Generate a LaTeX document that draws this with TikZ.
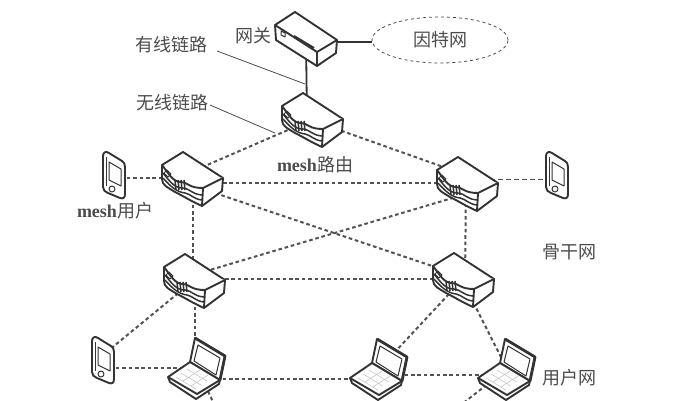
\documentclass[tikz,border=0pt]{standalone}
\usepackage{fontspec}
\usetikzlibrary{shapes.geometric}
\setmainfont{Liberation Serif}
\newfontfamily\cjk{Noto Sans CJK SC}
\definecolor{ink}{gray}{0.2}
\definecolor{lbl}{gray}{0.3}
\tikzset{
  anchorbox/.style={inner sep=0pt,minimum size=2pt},
  wireless/.style={draw=ink!85,dashed,dash pattern=on 3.6pt off 2.8pt,line width=2pt},
  wirelessthin/.style={draw=lbl,dashed,dash pattern=on 5pt off 3pt,line width=0.9pt},
  wired/.style={draw=ink,line width=1.8pt},
  callout/.style={draw=lbl,line width=0.8pt},
  lbltext/.style={text=lbl,inner sep=0pt,font=\fontsize{18}{20}\selectfont\cjk},
  devline/.style={draw=ink,line width=1.9pt,line join=round,fill=white},
  devthin/.style={draw=ink,line width=1pt,line join=round},
  router/.pic={
    \path[devline] (-8,-27) -- (32,-1) -- (31,12) -- (11,27)
      .. controls (-4,20) and (-4,19) .. (-16,13)
      .. controls (-24,8) and (-29,6) .. (-29,0) -- (-29,-14) -- cycle;
    \draw[devline] (-29,-14) .. controls (-22,-5) and (-18,3) .. (-10,3)
      .. controls (-2,4) and (-2,9) .. (12,9) -- (32,-1);
    \draw[devline] (12,9) -- (11,27);
    \draw[devthin,line width=1.5pt] (-28,-6) .. controls (-20,4) and (-16,9) .. (-8,9)
      .. controls (0,10) and (0,15) .. (11,16);
    \draw[devthin,line width=1.5pt] (-28,-1) .. controls (-20,8) and (-14,13) .. (-6,14)
      .. controls (0,15) and (2,20) .. (11,21);
    \draw[devthin] (-24,-9) -- (-20,-5) -- (-23,-2) -- (-27,-6) -- cycle;
    \foreach \i in {-16,-13,-10,-7}
      \draw[devthin,line width=1.5pt] (\i,1) -- (\i+1,11);
  },
  gateway/.pic={
    \path[devline] (-11,-27) -- (31,1) -- (30,14) -- (11,27) -- (-30,1) -- (-31,-14) -- cycle;
    \draw[devline,fill=none] (-31,-14) -- (11,13) -- (31,1);
    \draw[devline,fill=none] (11,13) -- (11,27);
    \draw[devthin] (-25,-8) -- (-21,-6) -- (-21,-2) -- (-25,-4) -- cycle;
    \draw[devthin,line width=2pt] (-12,-3) -- (8,9);
  },
  laptop/.pic={
    \path[devline] (-2,-30) -- (28,-12) -- (23,12) -- (-7,-6) -- cycle;
    \draw[devline,line width=2.8pt,fill=white] (-2,-30) -- (28,-12) -- (23,12);
    \draw[devthin] (1,-23) -- (23,-10) -- (19,7) -- (-3,-7) -- cycle;
    \path[devline] (-7,-6) -- (-29,9) -- (-27,14) -- (-1,31) -- (22,16) -- (23,12) -- cycle;
    \draw[devline,fill=none] (-29,9) -- (0,26) -- (23,12);
    \draw[devthin,draw=gray!50,line width=0.5pt] (-21,9) -- (-1,21) (-16,5) -- (4,17) (-10,1) -- (10,13);
    \draw[devthin,draw=gray!50,line width=0.5pt] (-14,13) -- (3,2) (-6,18) -- (11,7);
  },
  phone/.pic={
    \path[devline] (-11,-19) .. controls (-11,-23) and (-8,-24) .. (-5,-22) -- (8,-14)
      .. controls (10,-13) and (11,-11) .. (11,-8) -- (11,19)
      .. controls (11,23) and (9,24) .. (6,23) -- (-6,18)
      .. controls (-9,17) and (-11,15) .. (-11,12) -- cycle;
    \draw[devthin] (-8,-18) -- (-8,11);
    \draw[devthin] (-5,-13) -- (7,-6) -- (7,11) -- (-5,5) -- cycle;
    \draw[devthin] (-2,14) circle (3);
  }
}
\newcommand{\meshword}{{\rmfamily\bfseries mesh}}
\begin{document}
\begin{tikzpicture}[x=1pt,y=-1pt]
\useasboundingbox (0,0) rectangle (692,400);
\foreach \name/\xx/\yy in {gw/306/39, r0/311/120, r1/191/179, r2/466/184, r3/193/281, r4/462/280,
    p1/114/175, p2/557/175, p3/103/360, l1/197/368, l2/379/369, l3/507/369}
  \node[anchorbox] (\name) at (\xx,\yy) {};
\node[draw=lbl,dashed,line width=0.8pt,ellipse,minimum width=136pt,minimum height=46pt,inner sep=0pt] (inet) at (440,40) {};
\coordinate (stubA) at (216,408);
\coordinate (stubB) at (462,404);
\coordinate (wiredstart) at (217,51);
\coordinate (wiredend) at (305,84);
\coordinate (wirelessstart) at (210,105);
\coordinate (wirelessend) at (275,133);

\draw[wireless] (r0.center) -- ([yshift=7pt]r1.center);
\draw[wireless] (r0.center) -- ([yshift=9pt]r2.center);
\draw[wireless] ([yshift=-4pt]r1.center) -- ([yshift=1pt]r2.center);
\draw[wireless] ([xshift=2pt]r1.center) -- (r3.center);
\draw[wireless] (r2.center) -- ([xshift=3pt]r4.center);
\draw[wireless] ([yshift=-6pt]r1.center) -- ([yshift=4pt]r4.center);
\draw[wireless] ([yshift=-10pt]r2.center) -- ([yshift=6pt]r3.center);
\draw[wireless] ([yshift=2pt]r3.center) -- ([yshift=1pt]r4.center);
\draw[wireless] ([xshift=2pt]r3.center) -- ([xshift=-2pt,yshift=10pt]l1.center);
\draw[wireless] (r3.center) -- ([yshift=5pt]p3.center);
\draw[wireless] ([yshift=-8pt]p3.center) -- (l1.center);
\draw[wireless] ([yshift=-11pt]l1.center) -- ([yshift=-10pt]l2.center);
\draw[wireless] ([yshift=-6pt]l2.center) -- ([yshift=-6pt]l3.center);
\draw[wireless] (r4.center) -- (l2.center);
\draw[wireless] (r4.center) -- (l3.center);
\draw[wireless] (l1.center) -- (stubA);
\draw[wireless] (l3.center) -- (stubB);
\draw[wireless] ([yshift=-3pt]p1.center) -- ([yshift=1pt]r1.center);
\draw[wirelessthin] ([yshift=5pt]r2.center) -- ([yshift=-4pt]p2.center);
\draw[wired] (gw.center) -- ([xshift=-4pt]r0.center);
\draw[wired] ([yshift=-3pt]gw.center) -- ([yshift=-2pt]inet.west);

\foreach \name in {r0,r1,r2,r3,r4}
  \pic at (\name) {router};
\pic at (gw) {gateway};
\foreach \name in {l1,l2,l3}
  \pic at (\name) {laptop};
\foreach \name in {p1,p2,p3}
  \pic at (\name) {phone};

\node[lbltext] (wiredlbl) at (171,45) {有线链路};
\node[lbltext] (wirelesslbl) at (172,103) {无线链路};
\node[lbltext] (gwlbl) at (253,36) {网关};
\node[lbltext] (inetlbl) at (440,40) {因特网};
\node[lbltext] (routerlbl) at (315,165) {\meshword 路由};
\node[lbltext] (userlbl) at (115,211) {\meshword 用户};
\node[lbltext] (backbonelbl) at (569,252) {骨干网};
\node[lbltext] (accesslbl) at (569,378) {用户网};
\draw[callout] (wiredstart) -- (wiredend);
\draw[callout] (wirelessstart) -- (wirelessend);
\end{tikzpicture}
\end{document}
